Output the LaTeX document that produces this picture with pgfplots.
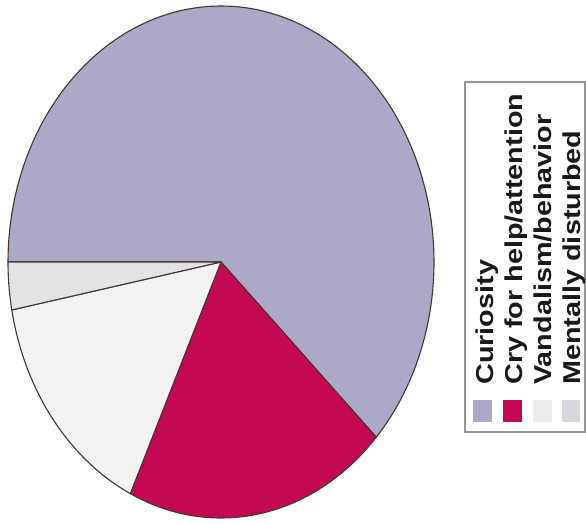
\documentclass[border=0pt]{standalone}
\usepackage{pgfplots}
\pgfplotsset{compat=1.18}
\usepackage{pgfplotstable}
\usepackage{fontspec}
\setmainfont{Liberation Sans}
\definecolor{cur}{RGB}{171,169,199}
\definecolor{cry}{RGB}{196,8,82}
\definecolor{van}{RGB}{242,242,242}
\definecolor{men}{RGB}{228,228,231}
\definecolor{edge}{RGB}{70,52,48}
\definecolor{boxc}{RGB}{150,150,150}

\pgfplotstableread{
label value
Curiosity 62
Cry 20
Vandalism 15
Mentally 3
}\piedata

\begin{document}
\begin{tikzpicture}
\useasboundingbox (0pt,0pt) rectangle (586pt,523pt);
\pgfplotstablegetelem{0}{value}\of\piedata \edef\va{\pgfplotsretval}
\pgfplotstablegetelem{1}{value}\of\piedata \edef\vb{\pgfplotsretval}
\pgfplotstablegetelem{2}{value}\of\piedata \edef\vc{\pgfplotsretval}
\pgfplotstablegetelem{3}{value}\of\piedata \edef\vd{\pgfplotsretval}
\pgfmathsetmacro\aA{180}
\pgfmathsetmacro\aB{180-3.6*\va}
\pgfmathsetmacro\aC{\aB-3.6*\vb}
\pgfmathsetmacro\aD{\aC-3.6*\vc}
\pgfmathsetmacro\aE{\aD-3.6*\vd}
\begin{axis}[at={(221pt,261pt)}, anchor=center, width=426pt, height=512pt,
  scale only axis, hide axis, xmin=-1, xmax=1, ymin=-1, ymax=1, clip=false]
\addplot[fill=cur, draw=edge, line width=1.1pt, line join=round, domain=\aB:\aA, samples=160, variable=\t]
  ({cos(\t)},{sin(\t)}) -- (axis cs:0,0) -- cycle;
\addplot[fill=cry, draw=edge, line width=1.1pt, line join=round, domain=\aC:\aB, samples=60, variable=\t]
  ({cos(\t)},{sin(\t)}) -- (axis cs:0,0) -- cycle;
\addplot[fill=van, draw=edge, line width=1.1pt, line join=round, domain=\aD:\aC, samples=50, variable=\t]
  ({cos(\t)},{sin(\t)}) -- (axis cs:0,0) -- cycle;
\addplot[fill=men, draw=edge, line width=1.1pt, line join=round, domain=\aE:\aD, samples=12, variable=\t]
  ({cos(\t)},{sin(\t)}) -- (axis cs:0,0) -- cycle;
\end{axis}
% legend
\draw[boxc, line width=1.2pt] (465pt,91pt) rectangle (585pt,441pt);
\fill[cur] (473pt,101pt) rectangle (492pt,123pt);
\fill[cry] (503pt,101pt) rectangle (522pt,123pt);
\fill[van!92!black!60!white] (533pt,101pt) rectangle (552pt,123pt);
\fill[men!95!black] (562pt,101pt) rectangle (580pt,123pt);
\begin{scope}[every node/.style={rotate=90, xscale=1.18, anchor=base west, inner sep=0pt,
   font=\fontsize{24.4}{28}\selectfont\bfseries, text=black!90}]
\node at (493pt,138pt) {Curiosity};
\node at (522pt,138pt) {Cry for help/attention};
\node at (551pt,138pt) {Vandalism/behavior};
\node at (580pt,138pt) {Mentally disturbed};
\end{scope}
\end{tikzpicture}
\end{document}
